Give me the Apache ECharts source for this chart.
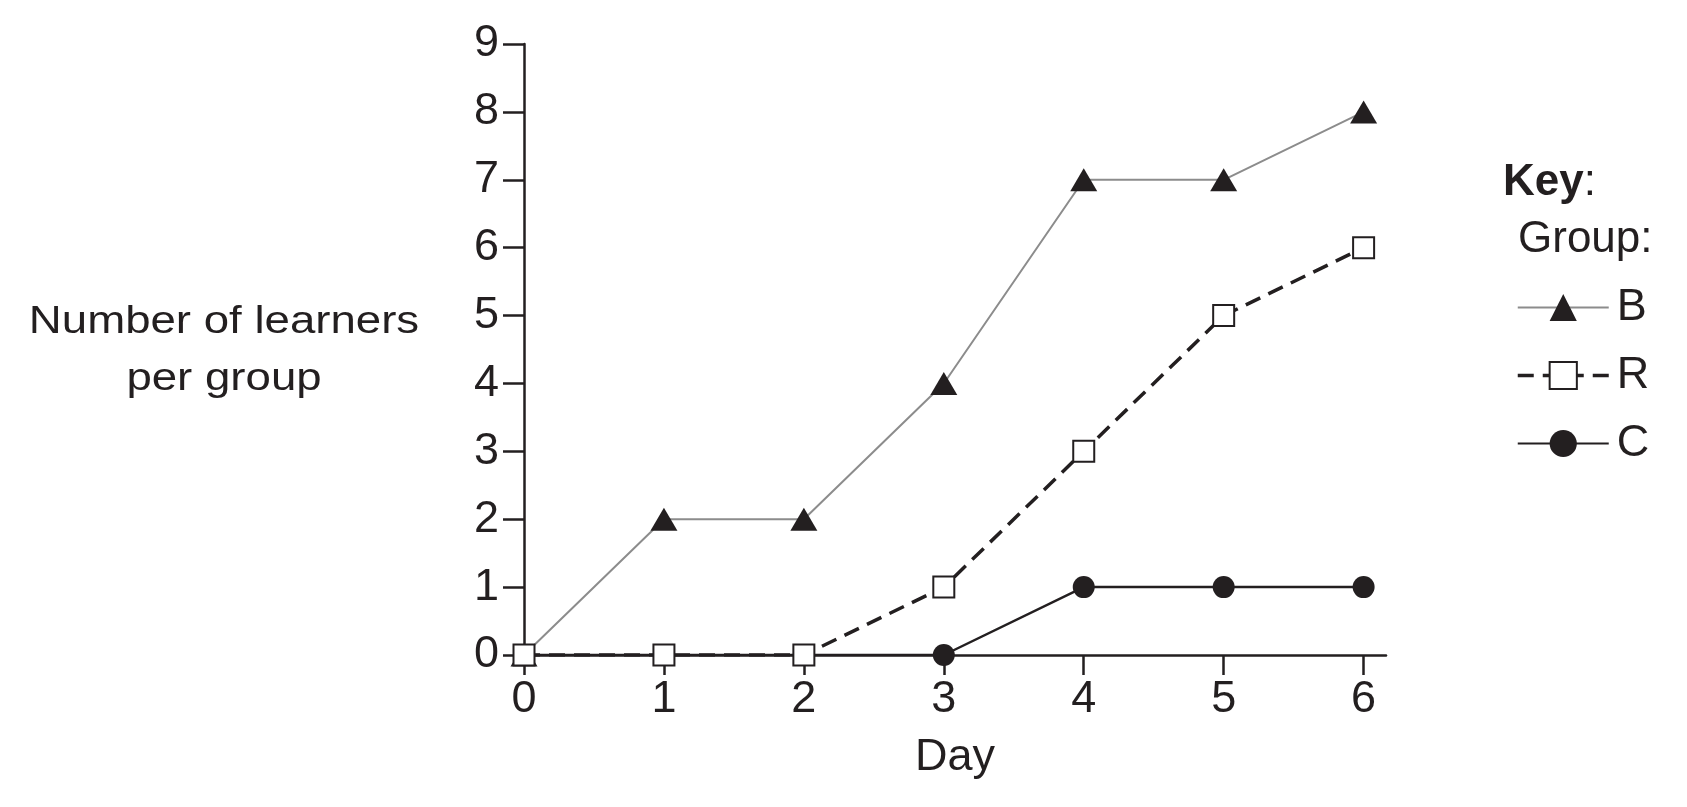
<!DOCTYPE html>
<html>
<head>
<meta charset="utf-8">
<script src="https://cdn.jsdelivr.net/npm/echarts@6/dist/echarts.min.js"></script>
<style>
html,body{margin:0;padding:0;background:#fff;}
#chart{width:1687px;height:807px;}
</style>
</head>
<body>
<div id="chart"></div>
<script>
const days = [0, 1, 2, 3, 4, 5, 6];
const groupB = [0, 2, 2, 4, 7, 7, 8];
const groupR = [0, 0, 0, 1, 3, 5, 6];
const groupC = [0, 0, 0, 0, 1, 1, 1];
const yTicks = [0, 1, 2, 3, 4, 5, 6, 7, 8, 9];
const xTicks = [0, 1, 2, 3, 4, 5, 6];

const INK = '#231f20';
const FONT = '"Liberation Sans", Arial, sans-serif';

function pairs(vals) { return days.map((d, i) => [d, vals[i]]); }

const chart = echarts.init(document.getElementById('chart'), null, {renderer: 'canvas'});
chart.setOption({
  animation: false,
  backgroundColor: '#fff',
  grid: {left: 524, right: 301, top: 44, bottom: 152, containLabel: false},
  xAxis: {
    type: 'value', min: 0, max: 6.16, interval: 1,
    name: 'Day', nameLocation: 'middle', nameGap: 80,
    nameTextStyle: {fontFamily: FONT, fontSize: 45, color: INK},
    axisLine: {show: true, onZero: false, lineStyle: {color: INK, width: 2.5}},
    axisTick: {show: true, length: 20, lineStyle: {color: INK, width: 2.5}, customValues: xTicks},
    axisLabel: {fontFamily: FONT, fontSize: 45, color: INK, margin: 22, customValues: xTicks},
    splitLine: {show: false}
  },
  yAxis: {
    type: 'value', min: 0, max: 9, interval: 1,
    axisLine: {show: true, lineStyle: {color: INK, width: 2.5}},
    axisTick: {show: true, length: 21, lineStyle: {color: INK, width: 2.5}, customValues: yTicks},
    axisLabel: {fontFamily: FONT, fontSize: 45, color: INK, margin: 25, customValues: yTicks},
    splitLine: {show: false}
  },
  legend: {
    data: ['B', {name: 'R', lineStyle: {width: 3.5}}, 'C'],
    orient: 'vertical',
    left: 1516, top: 285, padding: 0,
    itemWidth: 91, itemHeight: 34, itemGap: 23,
    textStyle: {fontFamily: FONT, fontSize: 45, color: INK, lineHeight: 44, padding: [0, 0, 0, 3]},
    selectedMode: false
  },
  graphic: [
    {type: 'text', left: 1503, top: 161, style: {
      text: '{b|Key}:', fontFamily: FONT, fontSize: 44, fill: INK,
      rich: {b: {fontFamily: FONT, fontSize: 44, fontWeight: 'bold', fill: INK}}
    }},
    {type: 'text', left: 1518, top: 218, style: {text: 'Group:', fontFamily: FONT, fontSize: 44, fill: INK}},
    {type: 'text', x: 224, y: 351, scaleX: 1.2, style: {
      text: 'Number of learners\nper group', fontFamily: FONT, fontSize: 38, lineHeight: 57,
      fill: INK, align: 'center', verticalAlign: 'middle'
    }}
  ],
  series: [
    {
      name: 'B', type: 'line', data: pairs(groupB), z: 2,
      symbol: 'triangle', symbolSize: [27, 23],
      itemStyle: {color: INK},
      lineStyle: {color: '#8c8c8c', width: 2}
    },
    {
      name: 'C', type: 'line', data: pairs(groupC), z: 3,
      symbol: 'circle', symbolSize: 22,
      itemStyle: {color: INK},
      lineStyle: {color: INK, width: 2.5}
    },
    {
      name: 'R', type: 'line', data: pairs(groupR), z: 4,
      symbol: 'rect', symbolSize: 21,
      itemStyle: {color: '#fff', borderColor: INK, borderWidth: 2},
      lineStyle: {color: INK, width: 3.5, type: [16, 9]}
    }
  ]
});
</script>
</body>
</html>
